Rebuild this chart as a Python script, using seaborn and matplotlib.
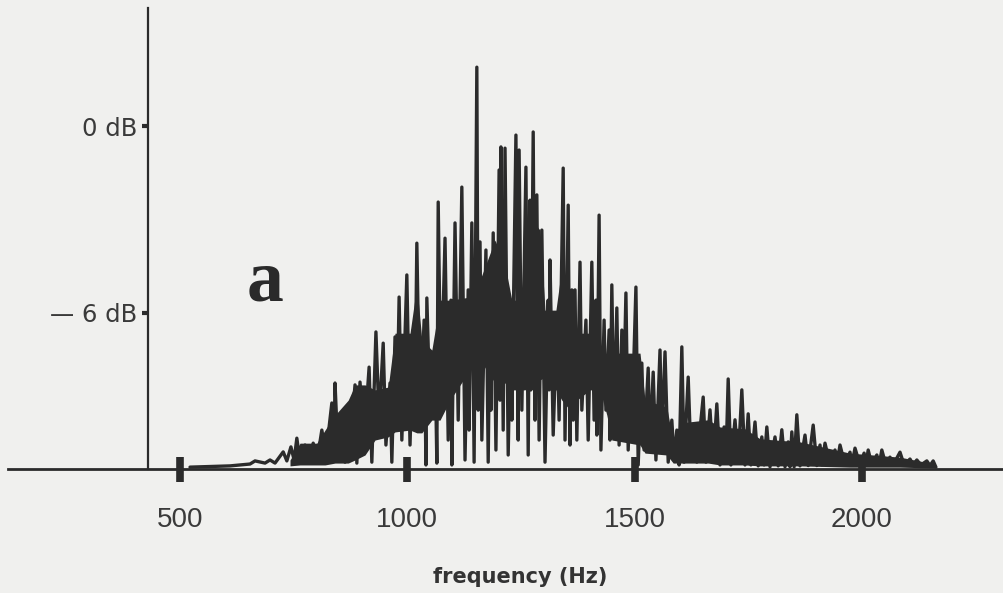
import matplotlib
matplotlib.use("Agg")
import matplotlib.pyplot as plt
import seaborn as sns
import pandas as pd

# frequency (Hz) and level (dB) of the drawn spectrum trace (line peaks and dips), in drawing order
freq = [522, 610, 654, 665, 687, 698, 709, 727, 735, 744, 751, 757, 764, 775, 784, 793, 801,
        812, 821, 834, 839, 841, 848, 856, 863, 867, 874, 885, 889, 896, 905, 916, 922,
        931, 938, 947, 953, 962, 966, 973, 977, 982, 988, 999, 1006, 1013, 1017, 1021, 1028,
        1037, 1041, 1043, 1050, 1061, 1065, 1068, 1074, 1083, 1090, 1096, 1098, 1105, 1112,
        1120, 1127, 1134, 1136, 1142, 1147, 1153, 1156, 1160, 1164, 1173, 1178, 1182, 1184,
        1189, 1195, 1202, 1204, 1206, 1211, 1215, 1222, 1228, 1230, 1239, 1244, 1246, 1252,
        1261, 1266, 1270, 1272, 1277, 1281, 1285, 1290, 1296, 1303, 1310, 1312, 1314, 1321,
        1329, 1334, 1343, 1347, 1354, 1358, 1362, 1365, 1369, 1373, 1380, 1384, 1393, 1398,
        1406, 1411, 1415, 1417, 1422, 1426, 1433, 1437, 1444, 1446, 1450, 1455, 1461, 1466,
        1472, 1475, 1481, 1486, 1492, 1494, 1503, 1508, 1516, 1521, 1530, 1534, 1541, 1547,
        1556, 1560, 1567, 1574, 1582, 1587, 1593, 1598, 1604, 1609, 1618, 1624, 1633, 1637,
        1651, 1657, 1666, 1673, 1681, 1688, 1697, 1701, 1706, 1712, 1721, 1728, 1736, 1743,
        1750, 1756, 1765, 1772, 1780, 1785, 1791, 1798, 1809, 1816, 1824, 1831, 1838, 1842,
        1846, 1851, 1857, 1864, 1875, 1882, 1893, 1901, 1908, 1912, 1919, 1930, 1941, 1945,
        1952, 1963, 1974, 1978, 1985, 1996, 2005, 2009, 2014, 2022, 2033, 2038, 2044, 2053,
        2062, 2069, 2084, 2093, 2106, 2113, 2121, 2130, 2143, 2150, 2157, 2163]

level = [-10.95, -10.91, -10.85, -10.75, -10.82, -10.72, -10.82, -10.46, -10.75, -10.30, -10.72,
         -10.02, -10.79, -10.24, -10.66, -10.18, -10.79,
         -9.76, -10.56, -8.89, -10.08, -8.25, -10.66, -9.44, -10.79, -9.53, -10.24, -8.31, -10.82,
         -8.22, -10.08, -7.74, -10.79,
         -6.61, -9.44, -6.97, -10.24, -8.25, -10.79, -6.77, -9.44, -5.49, -10.08, -4.78, -10.24,
         -6.55, -8.80, -3.76, -9.76,
         -6.23, -10.88, -5.52, -9.12, -7.19, -10.82, -2.44, -8.80, -3.60, -10.08, -5.59, -10.88,
         -3.11, -9.44,
         -1.96, -10.72, -5.26, -9.76, -3.11, -10.79, 1.89, -9.12, -3.72, -10.08, -3.98, -10.79,
         -5.59, -9.12,
         -3.43, -10.40, -1.41, -8.80, -0.67, -9.76, -0.71, -10.56, -5.59, -9.44, -0.29, -10.08,
         -0.77, -9.12,
         -1.32, -10.56, -2.38, -8.47, -0.19, -9.44, -2.21, -10.08, -3.34, -10.79, -5.59, -8.47,
         -4.30, -9.92,
         -6.23, -9.44, -1.35, -10.08, -2.54, -10.24, -5.26, -9.44, -5.26, -10.08, -4.37, -9.12,
         -6.23, -10.08,
         -4.37, -9.44, -5.59, -9.92, -2.86, -10.40, -6.23, -9.12, -6.55, -10.08, -5.10, -9.76,
         -5.84, -10.24,
         -6.55, -9.44, -5.36, -10.40, -7.51, -9.76, -5.17, -10.88, -7.61, -10.40, -7.77, -10.24,
         -7.90, -10.72,
         -7.19, -10.08, -7.25, -10.79, -9.44, -10.72, -9.76, -10.88, -7.09, -10.79, -8.06, -10.56,
         -9.60, -10.79,
         -8.70, -10.79, -9.11, -10.79, -8.92, -10.88, -9.66, -10.79, -8.12, -10.88, -9.43, -10.79,
         -8.47, -10.88,
         -9.24, -10.88, -9.50, -10.91, -9.98, -10.88, -9.66, -10.94, -9.98, -10.91, -9.75, -10.94,
         -10.14, -10.94,
         -9.82, -10.94, -9.27, -10.91, -9.92, -10.90, -9.60, -10.90, -10.24, -10.88, -10.18, -10.88,
         -10.40, -10.88,
         -10.24, -10.88, -10.47, -10.88, -10.34, -10.88, -10.50, -10.88, -10.40, -10.88, -10.56,
         -10.88, -10.40, -10.88,
         -10.63, -10.88, -10.47, -10.88, -10.69, -10.88, -10.72, -10.88, -10.75, -10.90, -10.75, -10.95]

# dense (unresolved) body of the spectrum: upper and lower edge in dB
body_freq = [742, 764, 801, 819, 841, 870, 885, 907, 929, 958, 973, 1006, 1021, 1032, 1054, 1072,
             1094, 1138, 1160, 1193, 1215, 1230, 1259, 1274, 1292, 1303, 1327, 1340, 1358, 1373,
             1402, 1424, 1439, 1450, 1512, 1523, 1571, 1585, 1600, 1662, 1688, 1743, 1776, 1864,
             1974, 2084, 2161]
body_top = [-10.72, -10.18, -10.18, -9.76, -9.28, -8.80, -8.31, -8.31, -8.47, -8.38, -6.65, -6.65,
            -5.10, -6.87, -7.19, -5.59, -5.59, -5.49, -4.94, -3.66, -4.46, -5.59, -5.59, -3.02,
            -3.34, -5.91, -5.91, -4.53, -5.26, -6.65, -6.65, -7.03, -8.31, -7.29, -7.29, -8.80,
            -9.02, -10.18, -9.53, -9.43, -9.66, -9.72, -10.04, -10.14, -10.50, -10.63, -10.85]
body_bottom = [-10.91, -10.88, -10.88, -10.88, -10.82, -10.82, -10.72, -10.56, -10.08, -9.98,
               -9.82, -9.76, -9.85, -9.85, -9.44, -9.44, -8.80, -7.83, -7.51, -8.25, -8.25, -8.47,
               -8.47, -8.25, -8.15, -8.06, -8.47, -8.80, -9.12, -8.80, -8.47, -8.47, -9.28, -10.08,
               -10.24, -10.50, -10.56, -10.82, -10.82, -10.82, -10.88, -10.88, -10.91, -10.91,
               -10.95, -10.95, -10.98]

xtick_values = [500, 1000, 1500, 2000]
xtick_labels = ["500", "1000", "1500", "2000"]
ytick_values = [0, -6]
ytick_labels = ["0 dB", "— 6 dB"]

df = pd.DataFrame({"frequency": freq, "level": level})

sns.set_theme(style="white")
bg = "#f0f0ee"
ink = "#2b2b2b"
plt.rcParams["font.family"] = ["DejaVu Sans"]

fig = plt.figure(figsize=(10.04, 5.93), dpi=100, facecolor=bg)
ax = fig.add_axes([0.008, 0.2091, 0.992, 0.7774])
ax.set_facecolor(bg)

ax.fill_between(body_freq, body_bottom, body_top, color=ink, lw=0, zorder=2)
sns.lineplot(data=df, x="frequency", y="level", ax=ax, sort=False, estimator=None,
             color=ink, lw=2.4, zorder=3)

ax.set_xlim(121.6, 2312.8)
ax.set_ylim(-11.01, 3.79)

for s in ["top", "right"]:
    ax.spines[s].set_visible(False)
ax.spines["left"].set_position(("data", 430))
ax.spines["left"].set_color(ink)
ax.spines["left"].set_linewidth(1.6)
ax.spines["bottom"].set_color(ink)
ax.spines["bottom"].set_linewidth(2.0)

ax.set_xticks(xtick_values)
ax.set_xticklabels(xtick_labels, family=["Liberation Sans", "DejaVu Sans"],
                   fontsize=20, color="#3a3a3a")
ax.tick_params(axis="x", bottom=True, direction="inout", length=18, width=5.5, color=ink, pad=18)

ax.set_yticks(ytick_values)
ax.set_yticklabels(ytick_labels, fontsize=17.5, color="#3a3a3a")
ax.tick_params(axis="y", left=True, direction="out", length=4, width=3, color=ink, pad=4)

ax.set_xlabel("")
ax.set_ylabel("")

fig.text(0.518, 0.0169, "frequency (Hz)", ha="center", va="baseline", fontsize=15,
         fontweight="bold", color="#333333")
fig.text(0.264, 0.494, "a", ha="center", va="baseline", fontsize=53, fontweight="bold",
         family=["Liberation Serif", "DejaVu Serif"], color="#2a2a2a")

fig.savefig("out.png", dpi=100, facecolor=bg)
